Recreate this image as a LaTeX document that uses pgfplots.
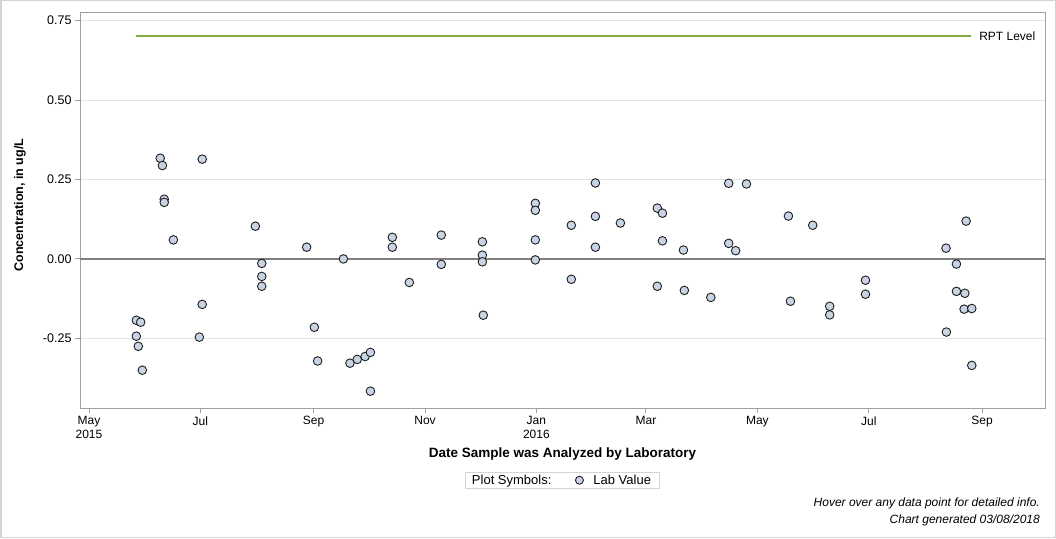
\documentclass[border=0pt]{standalone}
\usepackage{fontspec}
\setmainfont{Liberation Sans}
\usepackage{pgfplots}
\pgfplotsset{compat=1.18}
\definecolor{rptgreen}{RGB}{134,170,66}
\definecolor{markfill}{RGB}{200,212,228}
\definecolor{axgray}{RGB}{160,160,160}
\definecolor{gridgray}{RGB}{228,228,228}
\definecolor{bordergray}{RGB}{212,212,212}
\definecolor{zerogray}{RGB}{128,128,128}
\definecolor{markedge}{RGB}{30,30,30}

\begin{document}
\begin{tikzpicture}
\draw[bordergray, line width=1.5pt] (0.75pt,0.75pt) rectangle (1055.25pt,537.25pt);
\begin{axis}[
  at={(80pt,130pt)}, anchor=south west,
  width=965pt, height=396pt, scale only axis,
  xmin=-4.93, xmax=523.5, ymin=-0.469, ymax=0.777,
  clip=false,
  axis line style={axgray, line width=1pt},
  tick align=outside, tick pos=left,
  major tick length=5pt,
  tick style={axgray, line width=1pt},
  xtick={0,61,123,184,245,305,366,427,489},
  xticklabels={{May\\2015},Jul,Sep,Nov,{Jan\\2016},Mar,May,Jul,Sep},
  xticklabel style={align=center, font=\fontsize{12}{14}\selectfont, text=black},
  ytick={-0.25,0,0.25,0.5,0.75},
  yticklabels={-0.25,0.00,0.25,0.50,0.75},
  yticklabel style={font=\fontsize{12.5}{14}\selectfont, text=black},
  ymajorgrids, grid style={gridgray, line width=0.8pt},
  xlabel={Date Sample was Analyzed by Laboratory},
  ylabel={Concentration, in ug/L},
  xlabel style={font=\bfseries\fontsize{13.5}{15}\selectfont, at={(axis description cs:0.5,-0.116)}, anchor=center},
  ylabel style={font=\bfseries\fontsize{12.5}{14}\selectfont, at={(axis description cs:-0.0622,0.5126)}, anchor=center},
  legend columns=2,
  legend style={at={(0.5,-0.161)}, anchor=north, draw=bordergray, line width=1pt,
    font=\fontsize{13}{15}\selectfont, inner xsep=4pt, inner ysep=0.5pt},
]
\addplot[zerogray, line width=1.8pt, forget plot] coordinates {(-4.93,0) (523.5,0)};
\addplot[rptgreen, line width=2pt, forget plot] coordinates {(25.7,0.70) (483,0.70)};
\node[anchor=west, font=\fontsize{12}{14}\selectfont, inner sep=0pt] at (axis cs:487.4,0.70) {RPT Level};
\addlegendimage{empty legend}
\addlegendentry{Plot Symbols:\rule{22pt}{0pt}}
\addplot[only marks, mark=*, mark size=4.3pt,
  mark options={fill=markfill, draw=markedge, line width=0.9pt},
  legend image post style={mark size=4pt}] coordinates {
(25.9,-0.193) (28.3,-0.199) (25.9,-0.243) (27.0,-0.275) (29.2,-0.350)
(39.0,0.317) (40.2,0.294) (41.2,0.188) (41.2,0.178) (46.2,0.060)
(60.4,-0.246) (62.0,0.314) (62.0,-0.143)
(91.1,0.103) (94.6,-0.014) (94.6,-0.055) (94.6,-0.086)
(119.2,0.037) (123.4,-0.215) (125.2,-0.321)
(139.3,0.000) (142.9,-0.328) (146.9,-0.316) (151.2,-0.307) (154.1,-0.294) (154.1,-0.416)
(166.1,0.068) (166.1,0.037) (175.4,-0.074)
(192.9,0.075) (192.9,-0.017)
(215.4,0.054) (215.4,0.012) (215.4,-0.009) (215.9,-0.177)
(244.4,0.175) (244.4,0.153) (244.4,0.060) (244.4,-0.003)
(264.1,0.106) (264.1,-0.064)
(277.3,0.239) (277.3,0.134) (277.3,0.037)
(291.0,0.113)
(311.2,0.160) (311.2,-0.086) (314.0,0.144) (314.0,0.057)
(325.5,0.028) (326.0,-0.099)
(340.5,-0.121)
(350.3,0.238) (350.3,0.049) (354.1,0.026) (360.0,0.236)
(383.0,0.135) (384.1,-0.133) (396.3,0.106)
(405.6,-0.149) (405.6,-0.176)
(425.2,-0.067) (425.2,-0.111)
(469.3,0.034) (469.5,-0.230)
(475.0,-0.016) (475.0,-0.102)
(479.6,-0.108) (479.2,-0.158) (480.3,0.119)
(483.4,-0.156) (483.4,-0.335)
};
\addlegendentry{\rule{8pt}{0pt}Lab Value\rule{2pt}{0pt}}
\end{axis}
\node[anchor=east, font=\itshape\fontsize{12}{14}\selectfont, inner sep=0pt] at (1040pt,35pt) {Hover over any data point for detailed info.};
\node[anchor=east, font=\itshape\fontsize{12}{14}\selectfont, inner sep=0pt] at (1040pt,18pt) {Chart generated 03/08/2018};
\end{tikzpicture}
\end{document}
